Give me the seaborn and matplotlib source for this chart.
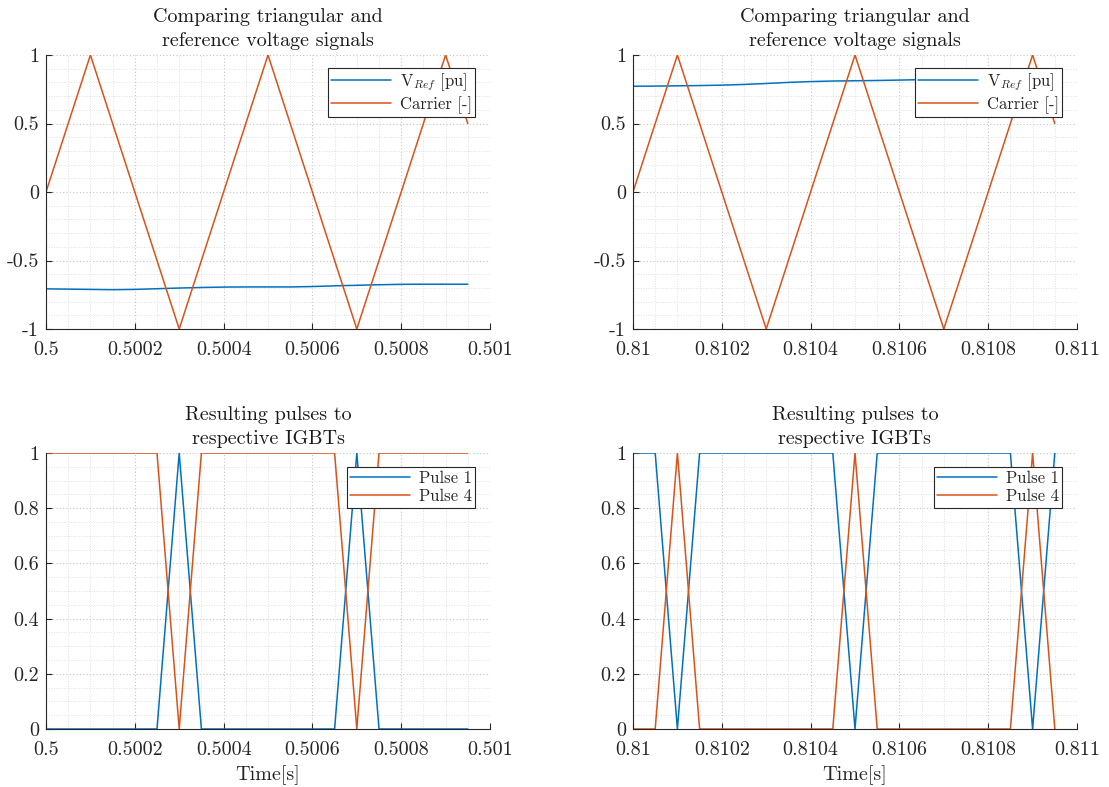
import matplotlib
matplotlib.use("Agg")
import matplotlib.pyplot as plt
import seaborn as sns
from matplotlib.ticker import MultipleLocator, FixedLocator

# ---------------- data ----------------
t_left = [0.5, 0.50005, 0.5001, 0.50015, 0.5002, 0.50025, 0.5003, 0.50035, 0.5004, 0.50045,
          0.5005, 0.50055, 0.5006, 0.50065, 0.5007, 0.50075, 0.5008, 0.50085, 0.5009, 0.50095]
t_right = [0.81, 0.81005, 0.8101, 0.81015, 0.8102, 0.81025, 0.8103, 0.81035, 0.8104, 0.81045,
           0.8105, 0.81055, 0.8106, 0.81065, 0.8107, 0.81075, 0.8108, 0.81085, 0.8109, 0.81095]

carrier = [0, 0.5, 1, 0.5, 0, -0.5, -1, -0.5, 0, 0.5,
           1, 0.5, 0, -0.5, -1, -0.5, 0, 0.5, 1, 0.5]

vref_left = [-0.707, -0.709, -0.711, -0.713, -0.711, -0.706, -0.701, -0.697, -0.694, -0.693,
             -0.693, -0.693, -0.690, -0.685, -0.681, -0.677, -0.674, -0.673, -0.673, -0.673]
vref_right = [0.772, 0.773, 0.775, 0.777, 0.780, 0.785, 0.792, 0.800, 0.806, 0.810,
              0.812, 0.814, 0.817, 0.820, 0.825, 0.830, 0.835, 0.838, 0.840, 0.842]

pulse1_left = [0, 0, 0, 0, 0, 0, 1, 0, 0, 0, 0, 0, 0, 0, 1, 0, 0, 0, 0, 0]
pulse4_left = [1, 1, 1, 1, 1, 1, 0, 1, 1, 1, 1, 1, 1, 1, 0, 1, 1, 1, 1, 1]
pulse1_right = [1, 1, 0, 1, 1, 1, 1, 1, 1, 1, 0, 1, 1, 1, 1, 1, 1, 1, 0, 1]
pulse4_right = [0, 0, 1, 0, 0, 0, 0, 0, 0, 0, 1, 0, 0, 0, 0, 0, 0, 0, 1, 0]

xticks_left = [0.5, 0.5002, 0.5004, 0.5006, 0.5008, 0.501]
xticklabels_left = ["0.5", "0.5002", "0.5004", "0.5006", "0.5008", "0.501"]
xticks_right = [0.81, 0.8102, 0.8104, 0.8106, 0.8108, 0.811]
xticklabels_right = ["0.81", "0.8102", "0.8104", "0.8106", "0.8108", "0.811"]
yticks_top = [-1, -0.5, 0, 0.5, 1]
yticklabels_top = ["-1", "-0.5", "0", "0.5", "1"]
yticks_bot = [0, 0.2, 0.4, 0.6, 0.8, 1]
yticklabels_bot = ["0", "0.2", "0.4", "0.6", "0.8", "1"]

title_top = "Comparing triangular and\nreference voltage signals"
title_bot = "Resulting pulses to\nrespective IGBTs"
xlabel = "Time[s]"

BLUE = "#0072BD"
ORANGE = "#D95319"

# ---------------- style ----------------
sns.set_theme(style="white")
plt.rcParams["font.family"] = ["cmr10", "DejaVu Serif"]
plt.rcParams["mathtext.fontset"] = "cm"
plt.rcParams["axes.formatter.use_mathtext"] = True
plt.rcParams["axes.unicode_minus"] = False

fig = plt.figure(figsize=(11.09, 7.87), dpi=100)
W, H = 1109, 787

def make_ax(x0, y0, x1, y1):
    return fig.add_axes([x0 / W, 1 - y1 / H, (x1 - x0) / W, (y1 - y0) / H])

ax_tl = make_ax(46, 55, 490, 329)
ax_tr = make_ax(633, 55, 1077, 329)
ax_bl = make_ax(46, 453, 490, 729)
ax_br = make_ax(633, 453, 1077, 729)

FS_TICK = 14.5
FS_TITLE = 14.5
FS_LEG = 12

def style_ax(ax, xt, xtl, yt, ytl, ylim, yminor, xlim):
    ax.set_xlim(*xlim)
    ax.set_ylim(*ylim)
    ax.xaxis.set_major_locator(FixedLocator(xt))
    ax.set_xticklabels(xtl)
    ax.yaxis.set_major_locator(FixedLocator(yt))
    ax.set_yticklabels(ytl)
    ax.xaxis.set_minor_locator(MultipleLocator(0.00005))
    ax.yaxis.set_minor_locator(MultipleLocator(yminor))
    ax.grid(True, which="major", color="#c4c4c4", linestyle=(0, (1, 2)), linewidth=0.8)
    ax.grid(True, which="minor", color="#d6d6d6", linestyle=(0, (1, 2)), linewidth=0.6)
    for s in ["top", "right"]:
        ax.spines[s].set_visible(False)
    for s in ["left", "bottom"]:
        ax.spines[s].set_color("#262626")
        ax.spines[s].set_linewidth(0.8)
    ax.tick_params(axis="both", which="major", direction="in", length=4, width=0.8,
                   colors="#262626", labelsize=FS_TICK, labelcolor="#262626",
                   bottom=True, left=True)
    ax.tick_params(axis="x", which="major", pad=9)
    ax.tick_params(axis="y", which="major", pad=5)
    ax.tick_params(axis="both", which="minor", length=0)
    ax.set_axisbelow(True)

def legend(ax, w_right=15, h_top=13, ax_w=444, ax_h=274):
    leg = ax.legend(loc="upper right",
                    bbox_to_anchor=(1 - w_right / ax_w, 1 - h_top / ax_h),
                    borderaxespad=0, fontsize=FS_LEG, frameon=True, fancybox=False,
                    edgecolor="#262626", framealpha=1, handlelength=3.6,
                    handletextpad=0.5, borderpad=0.2, labelspacing=0.2)
    leg.get_frame().set_linewidth(0.8)
    return leg

# top panels
for ax, t, vref, xt, xtl in [(ax_tl, t_left, vref_left, xticks_left, xticklabels_left),
                             (ax_tr, t_right, vref_right, xticks_right, xticklabels_right)]:
    sns.lineplot(x=t, y=vref, color=BLUE, linewidth=1.1, label=r"V$_{Ref}$ [pu]",
                 estimator=None, ax=ax)
    sns.lineplot(x=t, y=carrier, color=ORANGE, linewidth=1.1, label="Carrier [-]",
                 estimator=None, ax=ax)
    style_ax(ax, xt, xtl, yticks_top, yticklabels_top, (-1, 1), 0.1, (xt[0], xt[-1]))
    ax.set_title(title_top, fontsize=FS_TITLE, pad=6.5, linespacing=1.4, color="#1a1a1a")
    legend(ax)

# bottom panels
for ax, t, p1, p4, xt, xtl in [(ax_bl, t_left, pulse1_left, pulse4_left, xticks_left, xticklabels_left),
                               (ax_br, t_right, pulse1_right, pulse4_right, xticks_right, xticklabels_right)]:
    sns.lineplot(x=t, y=p1, color=BLUE, linewidth=1.1, label="Pulse 1", estimator=None, ax=ax)
    sns.lineplot(x=t, y=p4, color=ORANGE, linewidth=1.1, label="Pulse 4", estimator=None, ax=ax)
    style_ax(ax, xt, xtl, yticks_bot, yticklabels_bot, (0, 1), 0.05, (xt[0], xt[-1]))
    ax.set_title(title_bot, fontsize=FS_TITLE, pad=6.5, linespacing=1.4, color="#1a1a1a")
    ax.set_xlabel(xlabel, fontsize=FS_TITLE, labelpad=4, color="#262626")
    legend(ax, h_top=14, ax_h=276)

fig.savefig("out.png", dpi=100)
